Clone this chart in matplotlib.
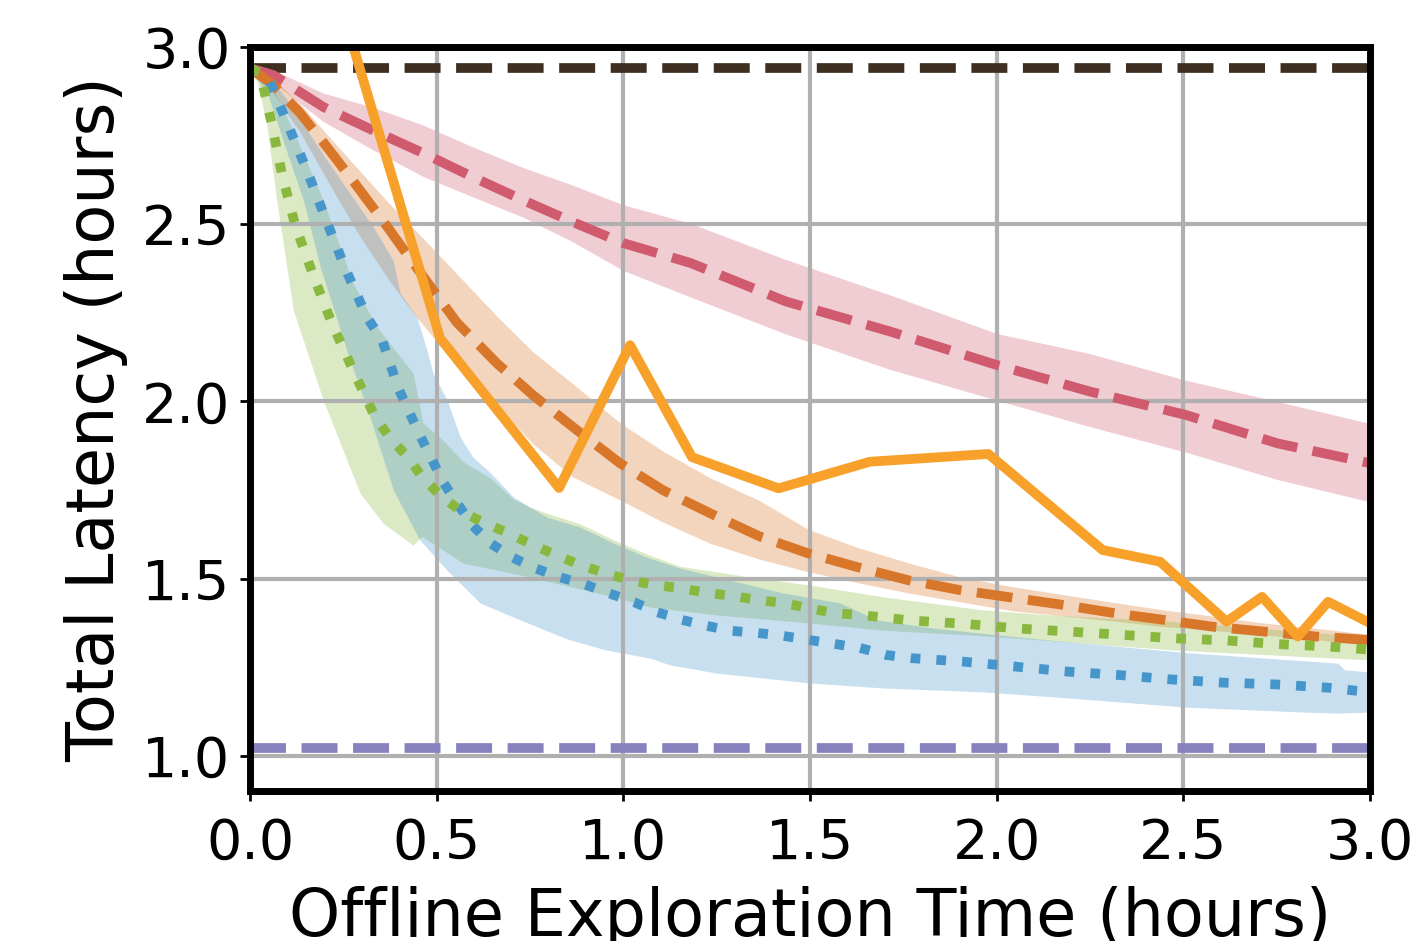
import matplotlib
matplotlib.use("Agg")
import matplotlib.pyplot as plt
import numpy as np

# ---------------- data ----------------
baseline_top = 2.94
baseline_bottom = 1.023

# orange solid
x_os = [0.0, 0.509, 0.828, 1.018, 1.184, 1.416, 1.66, 1.978, 2.284, 2.438, 2.616, 2.711, 2.807, 2.888, 3.0]
y_os = [3.98, 2.179, 1.756, 2.159, 1.843, 1.755, 1.830, 1.852, 1.581, 1.548, 1.379, 1.449, 1.337, 1.435, 1.375]

# red dashed (mean + band)
x_r = [0, 0.062, 0.196, 0.329, 0.463, 0.597, 0.731, 0.865, 0.999, 1.179, 1.436, 1.716, 2.0, 2.25, 2.507, 2.752, 3.0]
y_r = [2.94, 2.921, 2.831, 2.765, 2.701, 2.633, 2.568, 2.506, 2.447, 2.391, 2.282, 2.197, 2.103, 2.028, 1.962, 1.882, 1.826]
r_hi = [2.94, 2.935, 2.87, 2.83, 2.78, 2.718, 2.66, 2.61, 2.555, 2.503, 2.40, 2.30, 2.192, 2.135, 2.06, 2.00, 1.938]
r_lo = [2.94, 2.90, 2.79, 2.71, 2.635, 2.577, 2.52, 2.45, 2.37, 2.295, 2.19, 2.09, 2.004, 1.929, 1.857, 1.78, 1.717]

# orange dashed (mean + band)
x_od = [0, 0.062, 0.134, 0.209, 0.286, 0.367, 0.437, 0.554, 0.662, 0.758, 0.865, 0.991, 1.106, 1.232,
        1.366, 1.494, 1.623, 1.763, 1.902, 2.04, 2.18, 2.321, 2.448, 2.577, 2.716, 2.857, 3.0]
y_od = [2.94, 2.893, 2.814, 2.714, 2.608, 2.494, 2.391, 2.223, 2.107, 2.018, 1.928, 1.826, 1.750, 1.685,
        1.619, 1.572, 1.534, 1.496, 1.468, 1.447, 1.426, 1.402, 1.384, 1.365, 1.351, 1.337, 1.327]
od_hi = [2.94, 2.91, 2.84, 2.75, 2.66, 2.565, 2.49, 2.36, 2.24, 2.14, 2.05, 1.94, 1.86, 1.785,
         1.72, 1.64, 1.59, 1.545, 1.505, 1.478, 1.455, 1.432, 1.412, 1.395, 1.375, 1.36, 1.343]
od_lo = [2.94, 2.87, 2.76, 2.62, 2.48, 2.35, 2.25, 2.10, 1.99, 1.88, 1.787, 1.722, 1.66, 1.60,
         1.555, 1.52, 1.49, 1.46, 1.435, 1.41, 1.395, 1.38, 1.365, 1.355, 1.342, 1.328, 1.313]

# blue dotted (mean)
x_b = [0, 0.048, 0.102, 0.155, 0.206, 0.257, 0.313, 0.354, 0.397, 0.455, 0.517, 0.554, 0.595, 0.643,
       0.701, 0.763, 0.828, 0.897, 0.959, 1.029, 1.09, 1.157, 1.224, 1.291, 1.361, 1.428, 1.5, 1.567,
       1.634, 1.704, 1.773, 1.913, 2.053, 2.193, 2.333, 2.467, 2.607, 2.748, 2.885, 3.0]
y_b = [2.94, 2.915, 2.78, 2.645, 2.506, 2.371, 2.238, 2.173, 2.038, 1.905, 1.773, 1.714, 1.652, 1.601,
       1.561, 1.530, 1.505, 1.484, 1.460, 1.434, 1.406, 1.384, 1.367, 1.353, 1.347, 1.339, 1.327, 1.316,
       1.305, 1.285, 1.276, 1.266, 1.252, 1.238, 1.228, 1.216, 1.207, 1.202, 1.193, 1.18]
# blue band
xb_hi = [0, 0.05, 0.1, 0.2, 0.33, 0.383, 0.402, 0.447, 0.474, 0.49, 0.528, 0.563, 0.597, 0.643, 0.705,
         0.795, 0.884, 0.973, 1.063, 1.152, 1.25, 1.428, 1.58, 1.679, 1.83, 2.0, 2.143, 2.371, 2.516,
         2.914, 2.933, 3.0]
b_hi = [2.94, 2.92, 2.85, 2.69, 2.492, 2.399, 2.306, 2.238, 2.145, 2.08, 2.004, 1.90, 1.843, 1.80, 1.731,
        1.674, 1.646, 1.601, 1.561, 1.53, 1.505, 1.46, 1.432, 1.384, 1.361, 1.342, 1.327, 1.305, 1.291,
        1.262, 1.243, 1.237]
xb_lo = [0, 0.05, 0.1, 0.143, 0.188, 0.259, 0.321, 0.384, 0.455, 0.527, 0.616, 0.705, 0.85, 0.95,
         1.072, 1.125, 1.25, 1.5, 1.696, 1.964, 2.19, 2.507, 2.823, 2.914, 3.0]
b_lo = [2.94, 2.86, 2.70, 2.568, 2.38, 2.145, 1.957, 1.75, 1.609, 1.525, 1.432, 1.392, 1.33, 1.30,
        1.276, 1.257, 1.234, 1.206, 1.192, 1.181, 1.164, 1.138, 1.124, 1.121, 1.124]

# green dotted (mean)
x_g = [0, 0.027, 0.059, 0.086, 0.121, 0.169, 0.219, 0.276, 0.335, 0.375, 0.423, 0.463, 0.509, 0.568,
       0.630, 0.691, 0.758, 0.820, 0.884, 0.951, 1.018, 1.085, 1.152, 1.224, 1.291, 1.361, 1.431, 1.5,
       1.564, 1.634, 1.774, 1.914, 2.054, 2.194, 2.334, 2.474, 2.614, 2.748, 2.886, 3.0]
y_g = [2.94, 2.927, 2.78, 2.639, 2.498, 2.357, 2.221, 2.089, 1.956, 1.897, 1.843, 1.784, 1.736, 1.688,
       1.657, 1.629, 1.595, 1.567, 1.539, 1.516, 1.496, 1.482, 1.474, 1.46, 1.452, 1.44, 1.431, 1.417,
       1.403, 1.398, 1.382, 1.373, 1.36, 1.351, 1.342, 1.332, 1.326, 1.316, 1.309, 1.30]
# green band
xg_hi = [0, 0.05, 0.1, 0.15, 0.196, 0.276, 0.34, 0.437, 0.463, 0.517, 0.571, 0.643, 0.705, 0.75,
         0.795, 0.884, 0.973, 1.063, 1.152, 1.339, 1.5, 1.696, 1.964, 2.143, 2.462, 3.0]
g_hi = [2.94, 2.91, 2.80, 2.68, 2.568, 2.334, 2.21, 2.08, 1.94, 1.891, 1.83, 1.785, 1.725, 1.702,
        1.685, 1.655, 1.61, 1.57, 1.535, 1.505, 1.482, 1.449, 1.412, 1.398, 1.38, 1.336]
xg_lo = [0, 0.02, 0.045, 0.0714, 0.116, 0.196, 0.295, 0.357, 0.437, 0.46, 0.571, 0.75, 0.973, 1.072,
         1.25, 1.5, 1.696, 2.009, 2.462, 3.0]
g_lo = [2.94, 2.90, 2.78, 2.568, 2.258, 2.004, 1.741, 1.656, 1.595, 1.62, 1.544, 1.505, 1.449, 1.42,
        1.398, 1.375, 1.355, 1.336, 1.30, 1.271]

x_ticks = [0.0, 0.5, 1.0, 1.5, 2.0, 2.5, 3.0]
y_ticks = [1.0, 1.5, 2.0, 2.5, 3.0]

# ---------------- styling ----------------
C_RED = '#d05a6e'
C_ORD = '#d8762a'
C_ORS = '#f7a12a'
C_BLUE = '#4796cb'
C_GREEN = '#8ab83f'
C_PURPLE = '#8782bd'
C_DARK = '#3e2f21'
LW = 3.5

fig = plt.figure(figsize=(7.09, 4.705), dpi=200)
ax = fig.add_axes([0.1763, 0.1589, 0.7898, 0.7912])


def band(xs_hi, hi, xs_lo, lo, color, z):
    xx = np.union1d(xs_hi, xs_lo)
    h = np.interp(xx, xs_hi, hi)
    l = np.interp(xx, xs_lo, lo)
    ax.fill_between(xx, l, h, color=color, alpha=0.3, linewidth=0, zorder=z)


band(x_r, r_hi, x_r, r_lo, C_RED, 1.0)
band(x_od, od_hi, x_od, od_lo, C_ORD, 1.01)
band(xg_hi, g_hi, xg_lo, g_lo, C_GREEN, 1.02)
band(xb_hi, b_hi, xb_lo, b_lo, C_BLUE, 1.03)

ax.axhline(baseline_top, color=C_DARK, lw=LW, ls='--', zorder=2.0)
ax.axhline(baseline_bottom, color=C_PURPLE, lw=LW, ls='--', zorder=2.0)
ax.plot(x_r, y_r, color=C_RED, lw=LW, ls='--', zorder=2.1)
ax.plot(x_od, y_od, color=C_ORD, lw=LW, ls='--', zorder=2.2)
ax.plot(x_b, y_b, color=C_BLUE, lw=LW, ls=':', zorder=2.3)
ax.plot(x_g, y_g, color=C_GREEN, lw=LW, ls=':', zorder=2.4)
ax.plot(x_os, y_os, color=C_ORS, lw=LW, ls='-', zorder=2.5)

ax.set_xlim(0, 3.0)
ax.set_ylim(0.9, 3.0)
ax.set_xticks(x_ticks)
ax.set_yticks(y_ticks)
ax.set_xticklabels([f"{t:.1f}" for t in x_ticks])
ax.set_yticklabels([f"{t:.1f}" for t in y_ticks])
ax.grid(True, color='#b0b0b0', lw=1.5)
for s in ax.spines.values():
    s.set_linewidth(2.5)
    s.set_color('black')
ax.tick_params(axis='both', labelsize=20, width=1.0, length=3.5, color='black')
ax.tick_params(axis='x', pad=5.5)
ax.set_xlabel("Offline Exploration Time (hours)", fontsize=23.5, labelpad=5.5)
ax.set_ylabel("Total Latency (hours)", fontsize=23.5, labelpad=5)

fig.savefig("out.png", dpi=200)
